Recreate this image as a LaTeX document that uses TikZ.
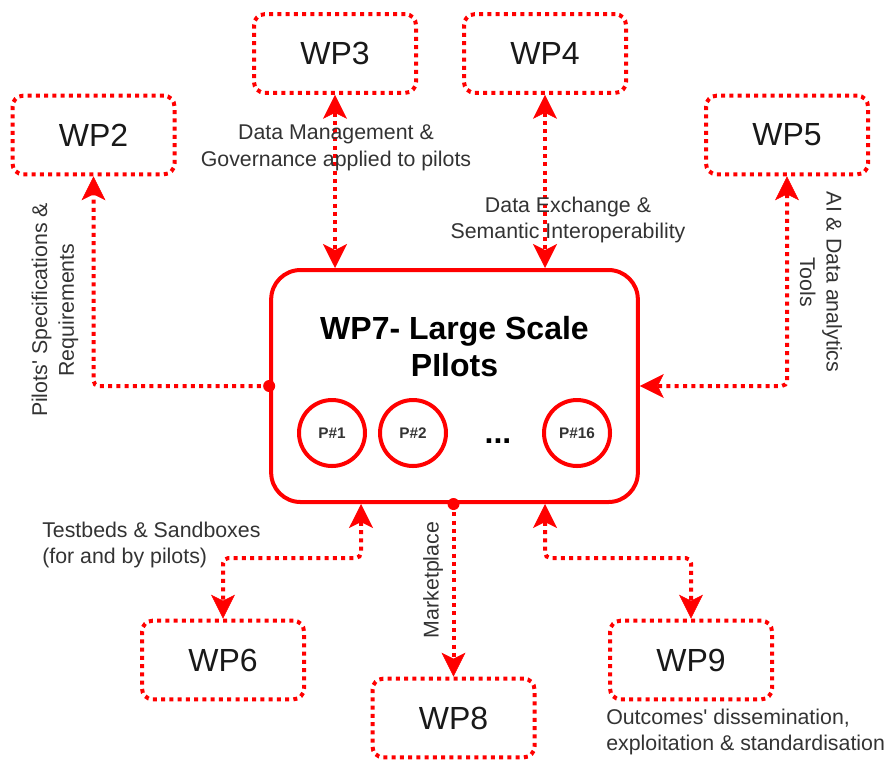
\documentclass[tikz,border=0pt]{standalone}
\usepackage{fontspec}
\setmainfont{Liberation Sans}[Ligatures=TeXOff]
\usetikzlibrary{arrows.meta,calc}
\definecolor{wpred}{HTML}{FF0000}
\definecolor{labgray}{HTML}{333333}
\begin{document}
\begin{tikzpicture}[x=0.75pt,y=-0.75pt,
  >={Stealth[length=18pt,width=18pt,inset=4.5pt,line width=0.4pt]},
  wpbox/.style={draw=wpred, line width=3pt, dash pattern=on 3pt off 3.2pt,
    rounded corners=8pt, minimum width=121.5pt, minimum height=59pt,
    inner sep=0pt, font=\fontsize{24}{28}\selectfont, text=black!90},
  mainbox/.style={draw=wpred, line width=3pt, rounded corners=22pt,
    minimum width=275pt, minimum height=174pt, inner sep=0pt},
  pilot/.style={circle, draw=wpred, line width=3pt, minimum size=49.5pt,
    inner sep=0pt, font=\bfseries\fontsize{11.5}{14}\selectfont, text=black!80},
  ttl/.style={font=\bfseries\fontsize{24}{28}\selectfont, align=center, inner sep=0pt},
  conn/.style={draw=wpred, line width=3pt, dash pattern=on 3pt off 3.2pt,
    rounded corners=4pt},
  lbl/.style={font=\fontsize{16}{20}\selectfont, text=labgray, inner sep=0pt}]
\useasboundingbox (0,0) rectangle (891,761);

% work package boxes
\node[wpbox] (wp2) at (93.5,135) {WP2};
\node[wpbox] (wp3) at (335,53.5) {WP3};
\node[wpbox] (wp4) at (545,53.5) {WP4};
\node[wpbox] (wp5) at (787,135) {WP5};
\node[wpbox] (wp6) at (223,660) {WP6};
\node[wpbox] (wp8) at (453.5,718) {WP8};
\node[wpbox] (wp9) at (691,660) {WP9};

% central pilots box
\node[mainbox] (wp7) at (454.5,386) {};
\node[ttl] (title) at (454.5,346.5) {WP7- Large Scale\\PIlots};
\node[pilot] (p1) at (332,433) {P\#1};
\node[pilot] (p2) at (413,433) {P\#2};
\node[pilot] (p16) at (577,433) {P\#16};
\node[font=\bfseries\fontsize{24}{28}\selectfont, inner sep=0pt] (dots) at (498,441) {...};

% connectors
\draw[conn,<->] (wp3.south) -- (wp3.south |- wp7.north);
\draw[conn,<->] (wp4.south) -- (wp4.south |- wp7.north);
\draw[conn,->] (wp7.west) -| (wp2.south);
\fill[wpred] (wp7.west) circle (4.5pt);
\draw[conn,<->] (wp5.south) |- (wp7.east);
\draw[conn,<->] ($(wp7.south)+(-93.5,0)$) -- ++(0,54) -| (wp6.north);
\draw[conn,<->] ($(wp7.south)+(90.5,0)$) -- ++(0,54) -| (wp9.north);
\draw[conn,->] (wp7.south -| wp8.north) -- (wp8.north);
\fill[wpred] (wp7.south -| wp8.north) circle (4.5pt);

% connector labels
\node[lbl, align=center] (l3) at (336,148) {Data Management \&\\Governance applied to pilots};
\node[lbl, align=center] (l4) at (568,220) {Data Exchange \&\\Semantic Interoperability};
\node[lbl, align=center, rotate=90] (l2) at (55,310) {Pilots' Specifications \&\\Requirements};
\node[lbl, align=center, rotate=-90] (l5) at (821,282) {AI \& Data analytics\\Tools};
\node[lbl, rotate=90] (l8) at (433,580) {Marketplace};
\node[lbl, align=left, anchor=west] (l6) at (42,545) {Testbeds \& Sandboxes\\(for and by pilots)};
\node[lbl, align=left, anchor=west] (l9) at (606,732) {Outcomes' dissemination,\\exploitation \& standardisation};
\end{tikzpicture}
\end{document}
